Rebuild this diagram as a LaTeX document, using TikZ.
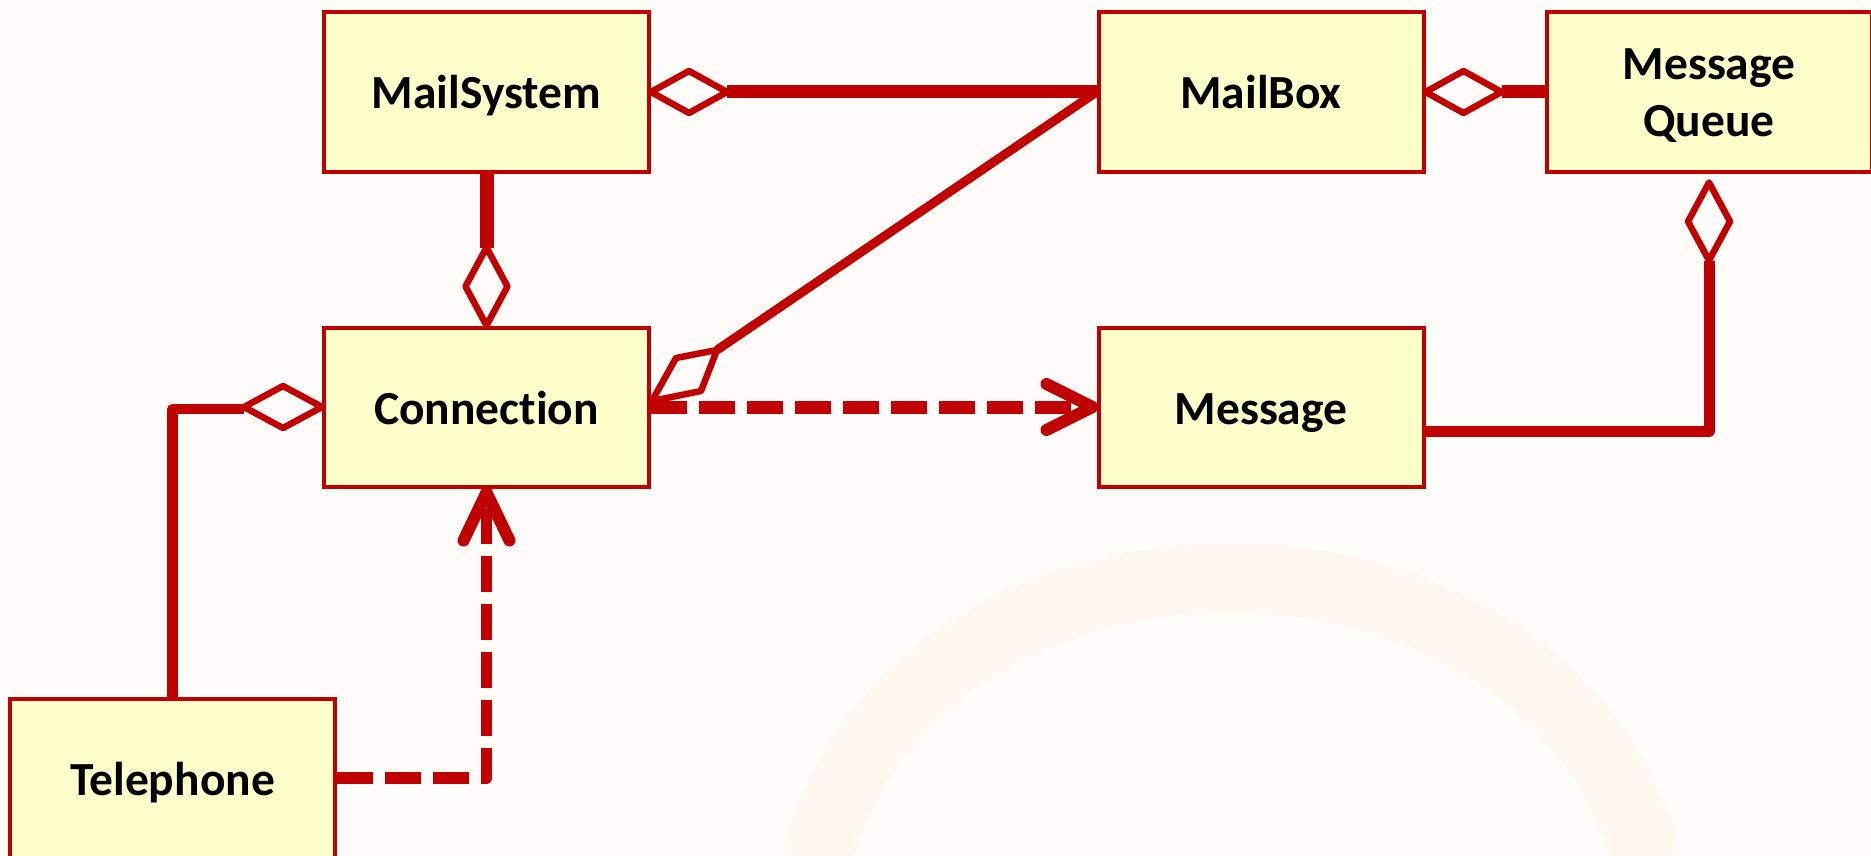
\documentclass[tikz,border=0pt]{standalone}
\usepackage{fontspec}
\setmainfont{Carlito}[Ligatures=NoCommon]
\usetikzlibrary{calc}
\definecolor{umlred}{HTML}{C00000}
\definecolor{boxfill}{HTML}{FFFFCC}
\definecolor{bgcol}{HTML}{FFFCFA}
\definecolor{ringcol}{HTML}{FFF8F0}
\begin{document}
\begin{tikzpicture}[x=1pt,y=-1pt,
  cls/.style={draw=umlred, fill=boxfill, line width=4pt, minimum width=325pt,
    minimum height=159pt, inner sep=0pt, align=center,
    font=\fontsize{47.5}{57}\selectfont\bfseries},
  oneline/.style={text height=34pt, text depth=0pt},
  lbl/.style={align=center, inner sep=0pt, font=\fontsize{47.5}{57}\selectfont\bfseries},
  assoc/.style={draw=umlred, line width=13pt},
  dia/.style={draw=umlred, fill=bgcol, line width=6.5pt, line join=round},
  dep/.style={draw=umlred, line width=13pt, dash pattern=on 36pt off 12pt, line join=round},
  barb/.style={draw=umlred, line width=12pt, line cap=round, line join=round},
]
\useasboundingbox (0,0) rectangle (1871,856);
\fill[bgcol] (0,0) rectangle (1871,856);
\begin{scope}
\clip (0,0) rectangle (1871,856);
\fill[ringcol] (782,860) .. controls (880,437) and (1580,437) .. (1682,860)
   -- (1611,860) .. controls (1515,530) and (945,530) .. (853,860) -- cycle;
\end{scope}

% classes
\node[cls, oneline] (MailSystem) at (486.5,92) {MailSystem};
\node[cls, oneline] (MailBox) at (1261,92) {MailBox};
\node[cls] (MQ) at (1709,92) {};
\node[lbl] (MQlabel) at ($(MQ.center)+(0,4)$) {Message\\Queue};
\node[cls, oneline] (Connection) at (486.5,407) {Connection};
\node[cls, oneline] (Message) at (1261,407) {Message};
\node[cls, oneline] (Telephone) at (172.5,778) {Telephone};

% MailSystem <>-- MailBox
\coordinate (msd) at ($(MailSystem.east)+(76,0)$);
\draw[assoc] (msd) -- (MailBox.west);
\draw[dia] (MailSystem.east) -- ++(38,-21) -- ++(38,21) -- ++(-38,21) -- cycle;

% MailBox <>-- Message Queue
\coordinate (mbd) at ($(MailBox.east)+(76,0)$);
\draw[assoc] (mbd) -- (MQ.west);
\draw[dia] (MailBox.east) -- ++(38,-21) -- ++(38,21) -- ++(-38,21) -- cycle;

% MailSystem --<> Connection
\coordinate (cnd) at ($(Connection.north)+(0,-78)$);
\draw[assoc, line width=14pt] (MailSystem.south) -- (cnd);
\draw[dia] (Connection.north) -- ++(-21,-39) -- ++(21,-39) -- ++(21,39) -- cycle;

% Connection <>-- MailBox (diagonal)
\coordinate (ca) at ($(Connection.east)+(1,-6)$);
\coordinate (cb) at ($(Connection.east)+(25,-49)$);
\coordinate (cc) at ($(Connection.east)+(66,-57)$);
\coordinate (cd) at ($(Connection.east)+(50,-16)$);
\draw[assoc, line width=9pt] (cc) -- (MailBox.west);

% Connection ---> Message (dependency)
\coordinate (mtip) at ($(Message.west)+(-4,0)$);
\draw[dep] (Connection.east) -- (mtip);
\draw[barb] ($(mtip)+(-46,-23)$) -- (mtip) -- ($(mtip)+(-46,23)$);
\draw[dia] (ca) -- (cb) -- (cc) -- (cd) -- cycle;

% Telephone ---> Connection (dependency)
\coordinate (tcor) at (Connection.south |- Telephone.east);
\coordinate (ctip) at ($(Connection.south)+(0,4)$);
\draw[dep, line width=11.5pt] (Telephone.east) -- (tcor) -- (ctip);
\draw[barb] ($(ctip)+(-23,48)$) -- (ctip) -- ($(ctip)+(23,48)$);

% Telephone --<> Connection
\coordinate (tcor2) at ($(Telephone.north |- Connection.west)+(0,2)$);
\coordinate (tdia) at ($(Connection.west)+(-78,2)$);
\draw[assoc, line width=10.5pt, line join=round] (Telephone.north) -- (tcor2) -- (tdia);
\draw[dia] (Connection.west) -- ++(-39,-21) -- ++(-39,21) -- ++(39,21) -- cycle;

% Message -- <> Message Queue
\coordinate (m1) at ($(Message.east)+(0,24)$);
\coordinate (m2) at (MQ.south |- m1);
\coordinate (mqd) at ($(MQ.south)+(0,87)$);
\draw[assoc, line width=11pt, line join=round] (m1) -- (m2) -- (mqd);
\draw[dia] ($(MQ.south)+(0,9)$) -- ++(-21,39) -- ++(21,39) -- ++(21,-39) -- cycle;
\end{tikzpicture}
\end{document}
